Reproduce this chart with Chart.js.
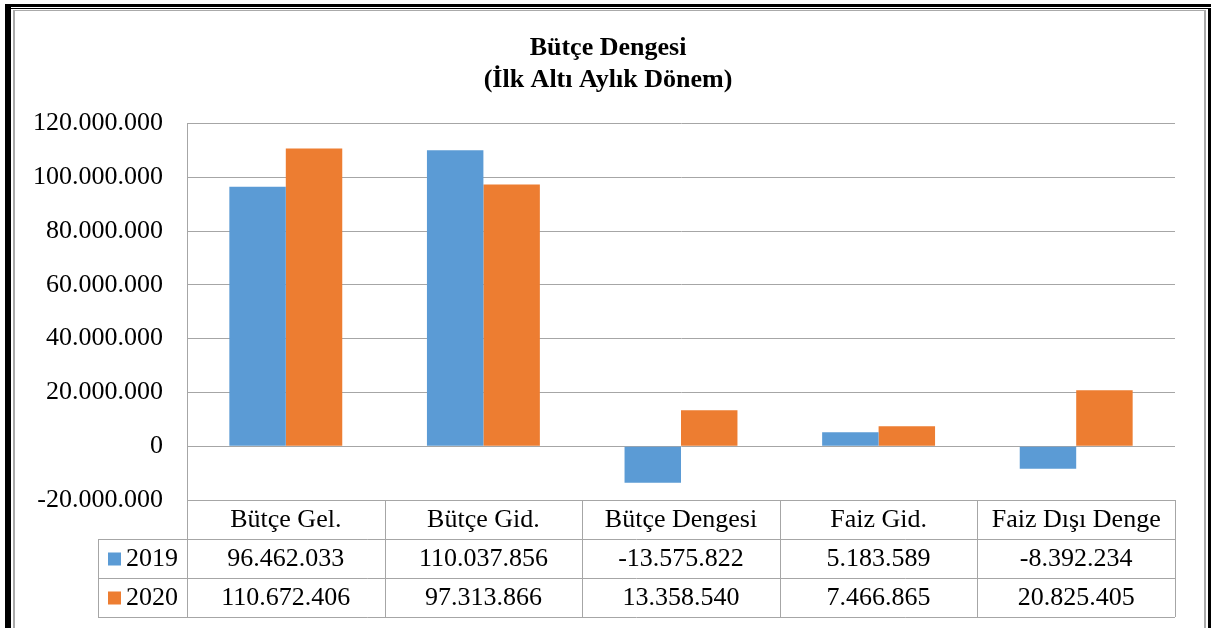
<!DOCTYPE html>
<html>
<head>
<meta charset="utf-8">
<script src="https://cdn.jsdelivr.net/npm/chart.js@4"></script>
<style>
  html, body { margin: 0; padding: 0; background: #fff; }
  #wrap { width: 1211px; height: 628px; position: relative; }
</style>
</head>
<body>
<div id="wrap"><canvas id="chart" width="1211" height="628"></canvas></div>
<script>
// chart data
const categories = ['Bütçe Gel.', 'Bütçe Gid.', 'Bütçe Dengesi', 'Faiz Gid.', 'Faiz Dışı Denge'];
const seriesNames = ['2019', '2020'];
const values2019 = [96462033, 110037856, -13575822, 5183589, -8392234];
const values2020 = [110672406, 97313866, 13358540, 7466865, 20825405];
const seriesColors = ['#5B9BD5', '#ED7D31'];
const yMin = -20000000;
const yMax = 120000000;
const yStep = 20000000;

const FONT = "'Liberation Serif', 'Times New Roman', serif";
const GRID = '#A6A6A6';

function fmt(v) {
    let s = Math.abs(Math.round(v)).toString().replace(/\B(?=(\d{3})+(?!\d))/g, '.');
    return (v < 0 ? '-' : '') + s;
}

// draws the data table under the plot, plus the outer frame
const tablePlugin = {
    id: 'dataTable',
    afterDraw(chart) {
        const ctx = chart.ctx;
        const area = chart.chartArea;
        const n = categories.length;
        const colW = area.width / n;
        const rowH = 39;
        const top = area.bottom;
        const legendLeft = 98;
        const rows = [values2019, values2020];

        ctx.save();
        ctx.strokeStyle = GRID;
        ctx.lineWidth = 1;
        ctx.beginPath();
        // horizontal lines
        ctx.moveTo(area.left, top + 0.5);
        ctx.lineTo(area.right, top + 0.5);
        for (let r = 1; r <= rows.length + 1; r++) {
            let y = Math.round(top + r * rowH) + 0.5;
            ctx.moveTo(legendLeft, y);
            ctx.lineTo(area.right, y);
        }
        // vertical lines
        for (let c = 0; c <= n; c++) {
            let x = Math.round(area.left + c * colW) + 0.5;
            ctx.moveTo(x, top);
            ctx.lineTo(x, top + rowH * (rows.length + 1));
        }
        ctx.moveTo(legendLeft + 0.5, top + rowH);
        ctx.lineTo(legendLeft + 0.5, top + rowH * (rows.length + 1));
        ctx.stroke();

        ctx.fillStyle = '#000';
        ctx.font = '26px ' + FONT;
        ctx.textAlign = 'center';
        ctx.textBaseline = 'middle';
        categories.forEach((c, i) => {
            let x = chart.scales.x.getPixelForValue(i);
            ctx.fillText(c, x, top + rowH / 2 + 1);
            rows.forEach((vals, r) => {
                ctx.fillText(fmt(vals[i]), x, top + rowH * (r + 1.5) + 1);
            });
        });
        // legend keys
        seriesNames.forEach((name, r) => {
            let cy = top + rowH * (r + 1.5);
            ctx.fillStyle = seriesColors[r];
            ctx.fillRect(legendLeft + 10, cy - 6, 13, 13);
            ctx.fillStyle = '#000';
            ctx.textAlign = 'left';
            ctx.fillText(name, legendLeft + 28, cy + 1);
        });

        // outer frame
        ctx.fillStyle = '#000';
        ctx.fillRect(5, 4, chart.width - 5, 3);
        ctx.fillRect(11, 8, chart.width - 11, 1);
        ctx.fillRect(5, 4, 6, chart.height);
        ctx.fillRect(chart.width - 3, 8, 3, chart.height);
        ctx.fillStyle = '#AAAAAA';
        ctx.fillRect(13, 10, 1204 - 13, 1);
        ctx.fillRect(13, 10, 2, chart.height);
        ctx.fillRect(1204, 10, 2, chart.height);
        ctx.restore();
    }
};

new Chart(document.getElementById('chart').getContext('2d'), {
    type: 'bar',
    data: {
        labels: categories,
        datasets: [
            { label: seriesNames[0], data: values2019, backgroundColor: seriesColors[0] },
            { label: seriesNames[1], data: values2020, backgroundColor: seriesColors[1] }
        ]
    },
    options: {
        responsive: false,
        animation: false,
        layout: { padding: { left: 5, right: 0, top: 0, bottom: 128 } },
        datasets: { bar: { categoryPercentage: 2 / 3.5, barPercentage: 1.0 } },
        plugins: {
            legend: { display: false },
            tooltip: { enabled: false },
            title: {
                display: true,
                text: ['Bütçe Dengesi', '(İlk Altı Aylık Dönem)'],
                color: '#000',
                font: { family: FONT, size: 26, weight: 'bold', lineHeight: 1.24 },
                padding: { top: 32, bottom: 27 }
            }
        },
        scales: {
            x: { display: false },
            y: {
                min: yMin,
                max: yMax,
                afterFit(scale) { scale.width = 182; },
                grid: { color: GRID, drawTicks: false },
                border: { display: true, color: GRID },
                ticks: {
                    stepSize: yStep,
                    padding: 24,
                    color: '#000',
                    font: { family: FONT, size: 26 },
                    callback: v => fmt(v)
                }
            },
            // empty spacer on the right so the plot ends where the reference does
            spacer: {
                type: 'linear',
                position: 'right',
                afterFit(scale) { scale.width = 36; },
                grid: { display: false },
                border: { display: false },
                ticks: { display: false }
            }
        }
    },
    plugins: [tablePlugin]
});
</script>
</body>
</html>
